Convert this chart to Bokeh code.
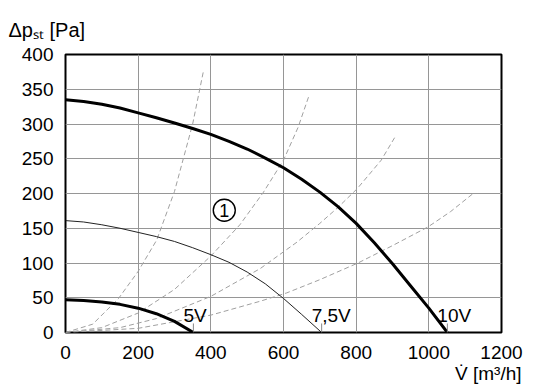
from bokeh.plotting import figure
from bokeh.models import FixedTicker, Range1d, ColumnDataSource, Title
from bokeh.core.properties import value
from bokeh.embed import file_html
from bokeh.resources import INLINE

# ---- data ----
x_ticks = [0, 200, 400, 600, 800, 1000, 1200]
y_ticks = [0, 50, 100, 150, 200, 250, 300, 350, 400]

# fan curves
x10 = [0, 50, 100, 150, 200, 250, 300, 350, 400, 450, 500, 550, 600, 650, 700, 750, 800, 850, 900, 950, 1000, 1051]
y10 = [335, 332.5, 328.5, 323, 316, 309, 301.5, 293.5, 285, 275, 264, 251, 237, 220.5, 202, 181, 157, 129, 99, 67, 35, 0]
x75 = [0, 50, 100, 150, 200, 250, 300, 350, 400, 450, 500, 550, 600, 650, 705]
y75 = [161, 159, 155, 150, 144, 138, 131, 122, 112, 101, 87, 70, 49, 26, 0]
x5 = [0, 50, 100, 150, 200, 250, 300, 352]
y5 = [47, 46, 44, 40.5, 35, 27, 16, 0]

# system curves (dashed)
s1x = [0, 75, 146, 200, 251, 300, 350, 380]
s1y = [0, 12, 49, 88, 133, 203, 300, 377]
s2x = [0, 100, 200, 300, 400, 480, 545, 600, 640, 671]
s2y = [0, 7, 28, 62, 110, 155, 202, 248, 295, 342]
s3x = [0, 150, 250, 400, 536, 637, 700, 750, 803, 869, 910]
s3y = [0, 7, 20, 52, 92, 130, 157, 180, 207, 248, 284]
s4x = [0, 200, 400, 536, 609, 700, 805, 900, 998, 1060, 1122]
s4y = [0, 6, 25, 45, 57, 76, 100, 125, 152, 174, 200]

curve_labels = ["5V", "7,5V", "10V"]
marker_x = [437]
marker_y = [176]
marker_text = ["1"]

FONT = "Liberation Sans"

p = figure(width=536, height=388, x_range=Range1d(0, 1200), y_range=Range1d(0, 400),
           output_backend="svg", toolbar_location=None,
           min_border_left=65, min_border_right=35, min_border_top=54, min_border_bottom=56)
p.background_fill_color = "white"
p.border_fill_color = "white"
p.outline_line_color = "black"
p.outline_line_width = 2
p.outline_line_alpha = 1

for ax, ticks in ((p.xaxis, x_ticks), (p.yaxis, y_ticks)):
    ax.ticker = FixedTicker(ticks=ticks)
    ax.axis_line_color = None
    ax.major_tick_line_color = None
    ax.minor_tick_line_color = None
    ax.major_tick_out = 0
    ax.major_tick_in = 0
    ax.major_label_text_font = FONT
    ax.major_label_text_font_size = "19px"
    ax.major_label_text_color = "black"
p.xaxis.major_label_standoff = 13
p.yaxis.major_label_standoff = 12

p.xgrid.grid_line_color = "#969696"
p.ygrid.grid_line_color = "#969696"
p.xgrid.grid_line_width = 1
p.ygrid.grid_line_width = 1

# dashed system curves
for sx, sy in ((s1x, s1y), (s2x, s2y), (s3x, s3y), (s4x, s4y)):
    p.line(sx, sy, line_color="#a0a0a0", line_width=1, line_dash="5 3")

# fan curves
p.line(x75, y75, line_color="#222222", line_width=1)
p.line(x10, y10, line_color="black", line_width=3)
p.line(x5, y5, line_color="black", line_width=3)

# end ticks and labels
end_x = [x5[-1], x75[-1], x10[-1]]
src = ColumnDataSource(dict(x=end_x, y0=[0] * 3, y1=[13] * 3, yt=[25] * 3, t=curve_labels))
p.segment(x0="x", y0="y0", x1="x", y1="y1", source=src, line_color="#888888", line_width=1)
p.text(x="x", y="yt", text="t", source=src, x_offset=-10,
       text_font=value(FONT), text_font_size="19px", text_color="black",
       text_align="left", text_baseline="middle")

# circled 1
p.scatter(marker_x, marker_y, marker="circle", size=22, fill_color=None,
          line_color="black", line_width=1.4)
p.text(marker_x, marker_y, text=marker_text, text_font=value(FONT), text_font_size="18px",
       text_align="center", text_baseline="middle", text_color="black")

# y title
p.add_layout(Title(text="Δp\u209b\u209c [Pa]", align="left", offset=-57, standoff=28,
                   text_font=FONT, text_font_size="20px", text_font_style="normal",
                   text_color="black"), "above")

# x title
p.add_layout(Title(text="V\u0307 [m\u00b3/h]", align="right", offset=-20, standoff=-2,
                   text_font=FONT, text_font_size="19px", text_font_style="normal",
                   text_color="black"), "below")

open("out.html", "w").write(file_html(p, INLINE))
